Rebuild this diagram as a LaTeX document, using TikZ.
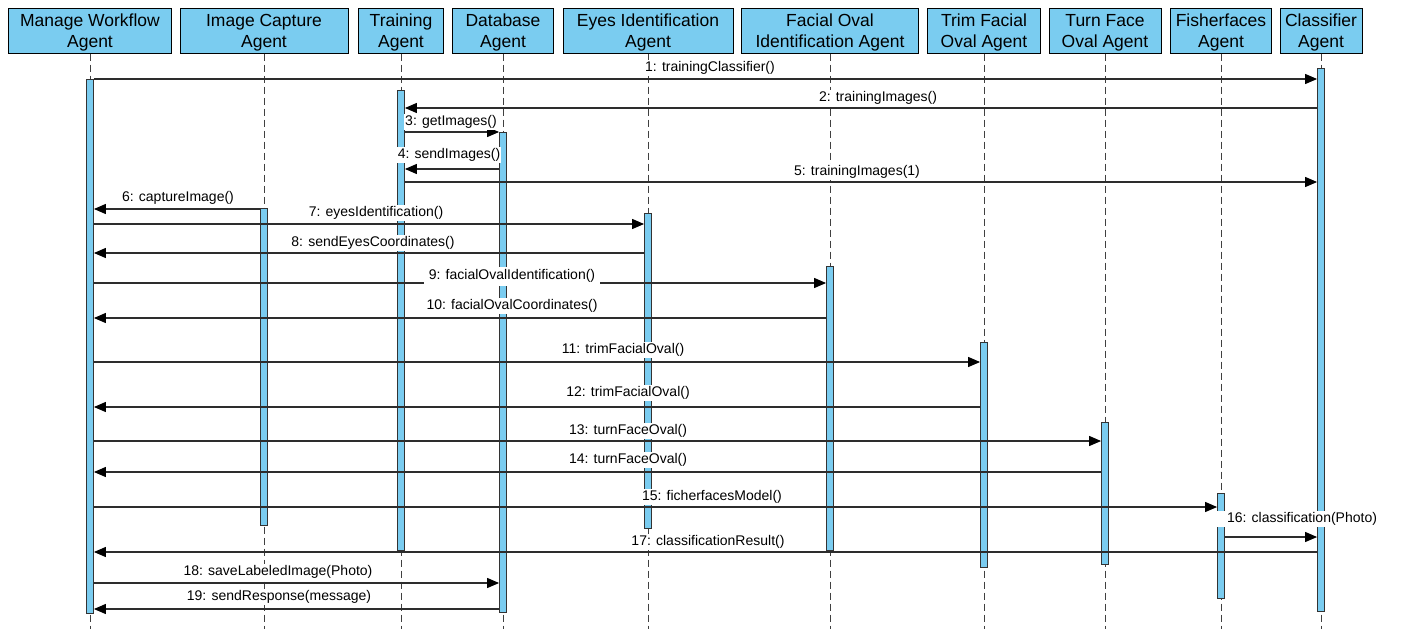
\documentclass[tikz,border=0pt]{standalone}
\usepackage{fontspec}
\setmainfont{Liberation Sans}
\usetikzlibrary{arrows.meta}
\definecolor{actblue}{RGB}{122,204,240}
\definecolor{linegray}{RGB}{45,45,45}
\newcommand{\hdup}{\rule{0pt}{17pt}}
\begin{document}
\begin{tikzpicture}[x=1pt,y=-1pt,
 head/.style={draw=black, line width=1pt, fill=actblue, minimum height=45pt, inner sep=0pt, align=center, font=\fontsize{17.5}{21}\selectfont},
 actbar/.style={draw=black!80, line width=0.8pt, fill=actblue, minimum width=7pt, inner sep=0pt, anchor=north},
 lifeline/.style={draw=black!75, line width=0.8pt, dash pattern=on 7pt off 4pt},
 msg/.style={draw=linegray, line width=1.1pt, -{Triangle[length=12pt,width=10pt,fill=black,color=black]}},
 lbl/.style={fill=white, inner sep=1pt, font=\fontsize{14}{16}\selectfont}
]
\useasboundingbox (0,0) rectangle (1401,629);
\coordinate (bot) at (0,629);
% headers
\node[head, minimum width=163pt] (hM) at (90,30.5) {\hdup Manage Workflow\\Agent};
\node[head, minimum width=168pt] (hI) at (264,30.5) {\hdup Image Capture\\Agent};
\node[head, minimum width=85pt] (hT) at (401,30.5) {\hdup Training\\Agent};
\node[head, minimum width=101pt] (hD) at (503,30.5) {\hdup Database\\Agent};
\node[head, minimum width=170pt] (hE) at (648,30.5) {\hdup Eyes Identification\\Agent};
\node[head, minimum width=177pt] (hF) at (830,30.5) {\hdup Facial Oval\\Identification Agent};
\node[head, minimum width=113pt] (hTr) at (984,30.5) {\hdup Trim Facial\\Oval Agent};
\node[head, minimum width=112pt] (hTu) at (1105,30.5) {\hdup Turn Face\\Oval Agent};
\node[head, minimum width=101pt] (hFi) at (1221,30.5) {\hdup Fisherfaces\\Agent};
\node[head, minimum width=82pt] (hC) at (1321,30.5) {\hdup Classifier\\Agent};
% lifelines
\foreach \h in {hM,hI,hT,hD,hE,hF,hTr,hTu,hFi,hC}
  \draw[lifeline] (\h.south) -- (\h.south |- bot);
% activation bars
\node[actbar, minimum height=534pt] (bM) at (90,79) {};
\node[actbar, minimum height=317pt] (bI) at (264,208) {};
\node[actbar, minimum height=460pt] (bT) at (401,90) {};
\node[actbar, minimum height=480pt] (bD) at (503,132) {};
\node[actbar, minimum height=315pt] (bE) at (648,213) {};
\node[actbar, minimum height=284pt] (bF) at (830,266) {};
\node[actbar, minimum height=225pt] (bTr) at (984,342) {};
\node[actbar, minimum height=142pt] (bTu) at (1105,422) {};
\node[actbar, minimum height=105pt] (bFi) at (1221,493) {};
\node[actbar, minimum height=543pt] (bC) at (1321,68) {};
% message heights
\coordinate (m1) at (0,79);
\coordinate (m2) at (0,108);
\coordinate (m3) at (0,132);
\coordinate (m4) at (0,169);
\coordinate (m5) at (0,182);
\coordinate (m6) at (0,209);
\coordinate (m7) at (0,224);
\coordinate (m8) at (0,253);
\coordinate (m9) at (0,283);
\coordinate (m10) at (0,318);
\coordinate (m11) at (0,362);
\coordinate (m12) at (0,407);
\coordinate (m13) at (0,441);
\coordinate (m14) at (0,472);
\coordinate (m15) at (0,507);
\coordinate (m16) at (0,537);
\coordinate (m17) at (0,552);
\coordinate (m18) at (0,583);
\coordinate (m19) at (0,609);
% messages
\draw[msg] (bM.east |- m1) -- (bC.west |- m1);
\draw[msg] (bC.west |- m2) -- (bT.east |- m2);
\draw[msg] (bT.east |- m3) -- (bD.west |- m3);
\draw[msg] (bD.west |- m4) -- (bT.east |- m4);
\draw[msg] (bT.east |- m5) -- (bC.west |- m5);
\draw[msg] (bI.west |- m6) -- (bM.east |- m6);
\draw[msg] (bM.east |- m7) -- (bE.west |- m7);
\draw[msg] (bE.west |- m8) -- (bM.east |- m8);
\draw[msg] (bM.east |- m9) -- (bF.west |- m9);
\draw[msg] (bF.west |- m10) -- (bM.east |- m10);
\draw[msg] (bM.east |- m11) -- (bTr.west |- m11);
\draw[msg] (bTr.west |- m12) -- (bM.east |- m12);
\draw[msg] (bM.east |- m13) -- (bTu.west |- m13);
\draw[msg] (bTu.west |- m14) -- (bM.east |- m14);
\draw[msg] (bM.east |- m15) -- (bFi.west |- m15);
\draw[msg] (bFi.east |- m16) -- (bC.west |- m16);
\draw[msg] (bC.west |- m17) -- (bM.east |- m17);
\draw[msg] (bM.east |- m18) -- (bD.west |- m18);
\draw[msg] (bD.west |- m19) -- (bM.east |- m19);
% labels
\node[lbl] (l1) at (710,68) {1: trainingClassifier()};
\node[lbl] (l2) at (878,98) {2: trainingImages()};
\node[lbl] (l3) at (451,122) {3: getImages()};
\node[lbl] (l4) at (449,155) {4: sendImages()};
\node[lbl] (l5) at (857,172) {5: trainingImages(1)};
\node[lbl] (l6) at (178,198) {6: captureImage()};
\node[lbl] (l7) at (376,213) {7: eyesIdentification()};
\node[lbl] (l8) at (373,243) {8: sendEyesCoordinates()};
\node[lbl, minimum height=19pt, inner xsep=5pt] (l9) at (512,276) {9: facialOvalIdentification()};
\node[lbl] (l10) at (512,306) {10: facialOvalCoordinates()};
\node[lbl] (l11) at (623,350) {11: trimFacialOval()};
\node[lbl] (l12) at (628,393) {12: trimFacialOval()};
\node[lbl] (l13) at (628,431) {13: turnFaceOval()};
\node[lbl] (l14) at (628,460) {14: turnFaceOval()};
\node[lbl] (l15) at (712,497) {15: ficherfacesModel()};
\node[lbl, inner xsep=4pt, minimum width=174pt] (l16) at (1302,519) {16: classification(Photo)};
\node[lbl] (l17) at (708,542) {17: classificationResult()};
\node[lbl] (l18) at (278,572) {18: saveLabeledImage(Photo)};
\node[lbl] (l19) at (279,597) {19: sendResponse(message)};
\end{tikzpicture}
\end{document}
